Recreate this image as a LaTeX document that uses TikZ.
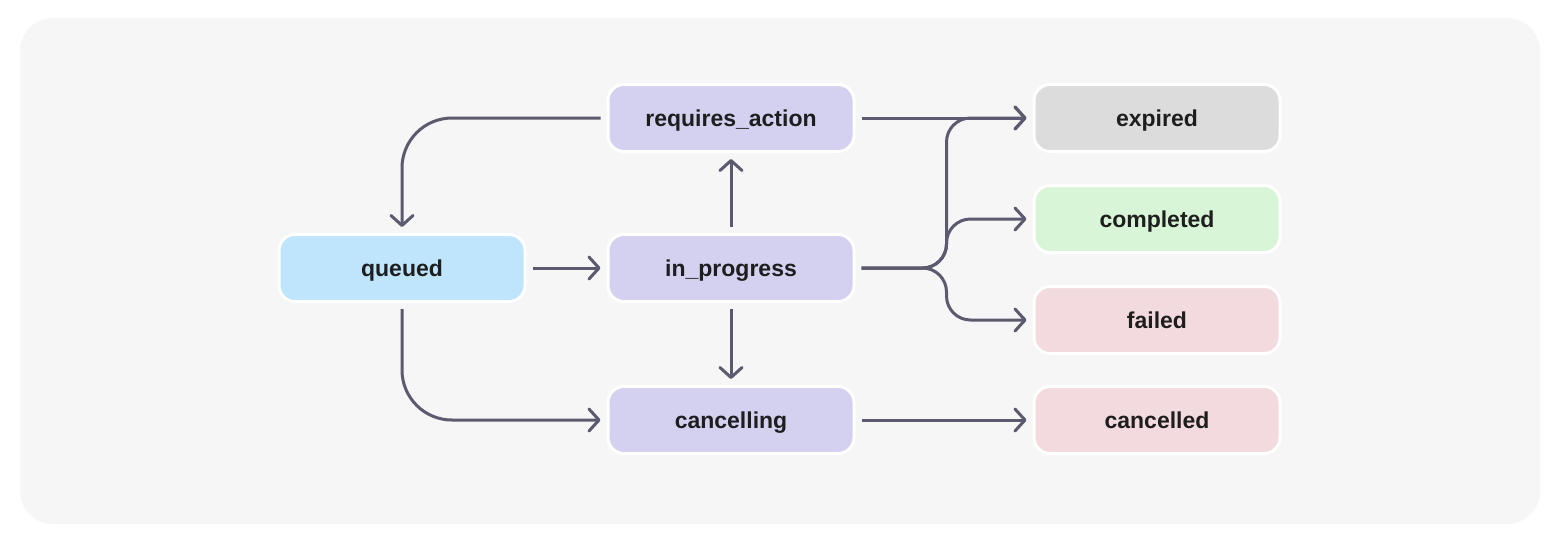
\documentclass[tikz,border=0pt]{standalone}
\usepackage{fontspec}
\setmainfont{Liberation Sans}
\usetikzlibrary{arrows.meta,positioning,calc}
\definecolor{panel}{HTML}{F6F6F6}
\definecolor{wire}{HTML}{5B5A6E}
\definecolor{ink}{HTML}{1E1E1E}
\definecolor{blueq}{HTML}{BEE5FB}
\definecolor{lilac}{HTML}{D3D0F0}
\definecolor{greyx}{HTML}{DCDCDC}
\definecolor{greenc}{HTML}{D9F5D7}
\definecolor{pinkf}{HTML}{F2DADE}
\tikzset{
  state/.style={
    draw=white,
    line width=1.5pt,
    rectangle,
    rounded corners=8pt,
    minimum width=123pt,
    minimum height=33.5pt,
    text height=9pt,
    text depth=1pt,
    align=center,
    text=ink,
    font=\fontsize{11.5}{14}\selectfont\bfseries
  },
  flow/.style={
    -{Straight Barb[length=5pt,width=11pt,round]},
    draw=wire,
    line width=1.5pt,
    shorten <=3pt,
    shorten >=3pt
  }
}

\begin{document}
\begin{tikzpicture}[x=0.5pt,y=-0.5pt]

\useasboundingbox (0,0) rectangle (1564,554);
\fill[panel, rounded corners=16.5pt] (20,18) rectangle (1540,524);

\node[state, fill=blueq] (queued) at (402,268) {queued};
\node[state, fill=lilac, right=40pt of queued] (prog) {in\_progress};
\node[state, fill=lilac, above=40pt of prog] (reqact) {requires\_action};
\node[state, fill=lilac, below=41pt of prog] (cancelling) {cancelling};
\node[state, fill=greyx, right=88.5pt of reqact] (expired) {expired};
\node[state, fill=greenc, below=15.5pt of expired] (completed) {completed};
\node[state, fill=pinkf, below=15.5pt of completed] (failed) {failed};
\node[state, fill=pinkf, right=88.5pt of cancelling] (cancelled) {cancelled};

\coordinate (fork) at ($(prog.east)+(91,0)$);

\draw[flow] (queued) -- (prog);
\draw[flow] (prog) -- (reqact);
\draw[flow] (prog) -- (cancelling);
\draw[flow, rounded corners=25pt] (reqact) -| (queued);
\draw[flow, rounded corners=25pt] (queued) |- (cancelling);
\draw[flow] (reqact) -- (expired);
\draw[flow] (cancelling) -- (cancelled);
\draw[flow, rounded corners=12pt] (prog.east) -- (fork) |- (expired);
\draw[flow, rounded corners=12pt] (prog.east) -- (fork) |- (completed);
\draw[flow, rounded corners=12pt] (prog.east) -- (fork) |- (failed);

\end{tikzpicture}
\end{document}
